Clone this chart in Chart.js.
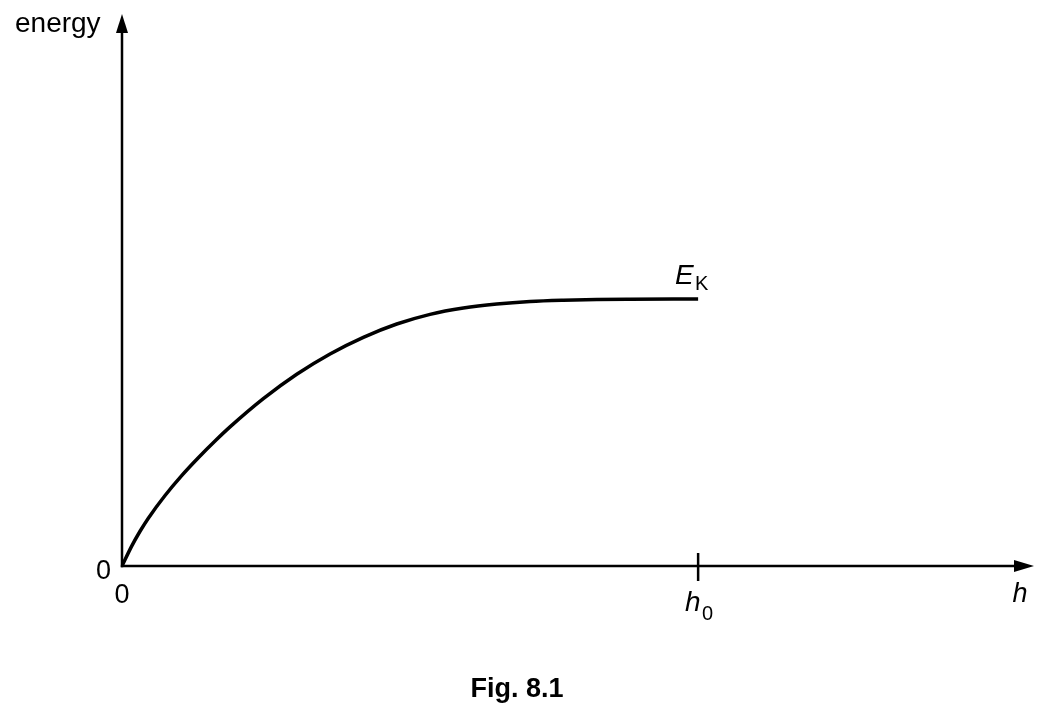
<!DOCTYPE html>
<html>
<head>
<meta charset="utf-8">
<script src="https://cdn.jsdelivr.net/npm/chart.js@4"></script>
<style>
html,body{margin:0;padding:0;background:#fff;}
#wrap{width:1047px;height:713px;position:relative;}
</style>
</head>
<body>
<div id="wrap"><canvas id="c" width="1047" height="713"></canvas></div>
<script>
// ---- data (h in units where h0 = 10; energy in units where E_K plateau = 10) ----
const hValues      = [0, 0.168, 0.313, 0.457, 0.747, 1.036, 1.325, 1.615, 1.875, 2.453, 3.033, 3.611, 4.189, 4.769, 5.347, 5.925, 6.505, 7.083, 7.661, 8.241, 8.819, 10];
const energyValues = [0, 0.745, 1.302, 1.792, 2.641, 3.386, 4.055, 4.680, 5.208, 6.266, 7.179, 7.939, 8.562, 9.061, 9.424, 9.660, 9.809, 9.903, 9.951, 9.978, 9.989, 10.0];
const h0Value = 10;
const xAxisMax = 15.83;
const yAxisMax = 20.67;
const xTickLabels = ['0', 'h'];       // origin label, h of the subscripted h0 at h0Value
const yTickLabels = ['0'];
const axisTitleY = 'energy';
const axisTitleX = 'h';
const curveLabel = ['E', 'K'];
const caption = 'Fig. 8.1';

const FONT = '"Liberation Sans", Arial, Helvetica, sans-serif';

const axesPlugin = {
  id: 'axesPlugin',
  beforeDatasetsDraw(chart) {
    const ctx = chart.ctx;
    const xs = chart.scales.x, ys = chart.scales.y;
    const x0 = xs.getPixelForValue(0), y0 = ys.getPixelForValue(0);
    const xEnd = xs.getPixelForValue(xAxisMax), yEnd = ys.getPixelForValue(yAxisMax);
    ctx.save();
    ctx.strokeStyle = '#000';
    ctx.fillStyle = '#000';
    ctx.lineWidth = 2.5;
    // y axis
    ctx.beginPath();
    ctx.moveTo(x0, y0 + 1.2);
    ctx.lineTo(x0, yEnd + 15);
    ctx.stroke();
    ctx.beginPath();
    ctx.moveTo(x0, yEnd);
    ctx.lineTo(x0 - 6, yEnd + 19);
    ctx.lineTo(x0 + 6, yEnd + 19);
    ctx.closePath();
    ctx.fill();
    // x axis
    ctx.beginPath();
    ctx.moveTo(x0 - 1.2, y0);
    ctx.lineTo(xEnd - 15, y0);
    ctx.stroke();
    ctx.beginPath();
    ctx.moveTo(xEnd, y0);
    ctx.lineTo(xEnd - 20, y0 - 6);
    ctx.lineTo(xEnd - 20, y0 + 6);
    ctx.closePath();
    ctx.fill();
    // h0 tick
    const xh0 = xs.getPixelForValue(h0Value);
    ctx.beginPath();
    ctx.moveTo(xh0, y0 - 13);
    ctx.lineTo(xh0, y0 + 15);
    ctx.stroke();
    ctx.restore();
  },
  afterDraw(chart) {
    const ctx = chart.ctx;
    const xs = chart.scales.x, ys = chart.scales.y;
    const x0 = xs.getPixelForValue(0), y0 = ys.getPixelForValue(0);
    const xEnd = xs.getPixelForValue(xAxisMax);
    const xh0 = xs.getPixelForValue(h0Value);
    const lastX = xs.getPixelForValue(hValues[hValues.length - 1]);
    const lastY = ys.getPixelForValue(energyValues[energyValues.length - 1]);
    ctx.save();
    ctx.fillStyle = '#000';
    ctx.textBaseline = 'alphabetic';
    // energy title
    ctx.font = '28px ' + FONT;
    ctx.textAlign = 'left';
    ctx.fillText(axisTitleY, 15, 32);
    // 0 labels
    ctx.font = '27px ' + FONT;
    ctx.textAlign = 'right';
    ctx.fillText(yTickLabels[0], x0 - 11, y0 + 13);
    ctx.textAlign = 'center';
    ctx.fillText(xTickLabels[0], x0, y0 + 37);
    // h axis title
    ctx.font = 'italic 27px ' + FONT;
    ctx.textAlign = 'center';
    ctx.fillText(axisTitleX, xEnd - 14, y0 + 36);
    // h0 label
    ctx.font = 'italic 28px ' + FONT;
    ctx.textAlign = 'left';
    ctx.fillText(xTickLabels[1], xh0 - 13, y0 + 45);
    ctx.font = '20px ' + FONT;
    ctx.fillText('0', xh0 + 4, y0 + 54);
    // E_K label
    ctx.font = 'italic 28px ' + FONT;
    ctx.textAlign = 'left';
    ctx.fillText(curveLabel[0], lastX - 23, lastY - 15);
    ctx.font = '20px ' + FONT;
    ctx.fillText(curveLabel[1], lastX - 3, lastY - 9);
    // caption
    ctx.font = 'bold 27px ' + FONT;
    ctx.textAlign = 'center';
    ctx.fillText(caption, 517, 697);
    ctx.restore();
  }
};

new Chart(document.getElementById('c'), {
  type: 'line',
  data: {
    datasets: [{
      data: hValues.map((h, i) => ({ x: h, y: energyValues[i] })),
      borderColor: '#000',
      borderWidth: 3.5,
      pointRadius: 0,
      fill: false,
      cubicInterpolationMode: 'monotone',
      borderCapStyle: 'butt'
    }]
  },
  options: {
    responsive: false,
    animation: false,
    events: [],
    layout: { padding: { left: 122, right: 13, top: 14, bottom: 147 } },
    plugins: { legend: { display: false }, tooltip: { enabled: false }, title: { display: false } },
    scales: {
      x: { type: 'linear', min: 0, max: xAxisMax, display: false },
      y: { type: 'linear', min: 0, max: yAxisMax, display: false }
    }
  },
  plugins: [axesPlugin]
});
</script>
</body>
</html>
